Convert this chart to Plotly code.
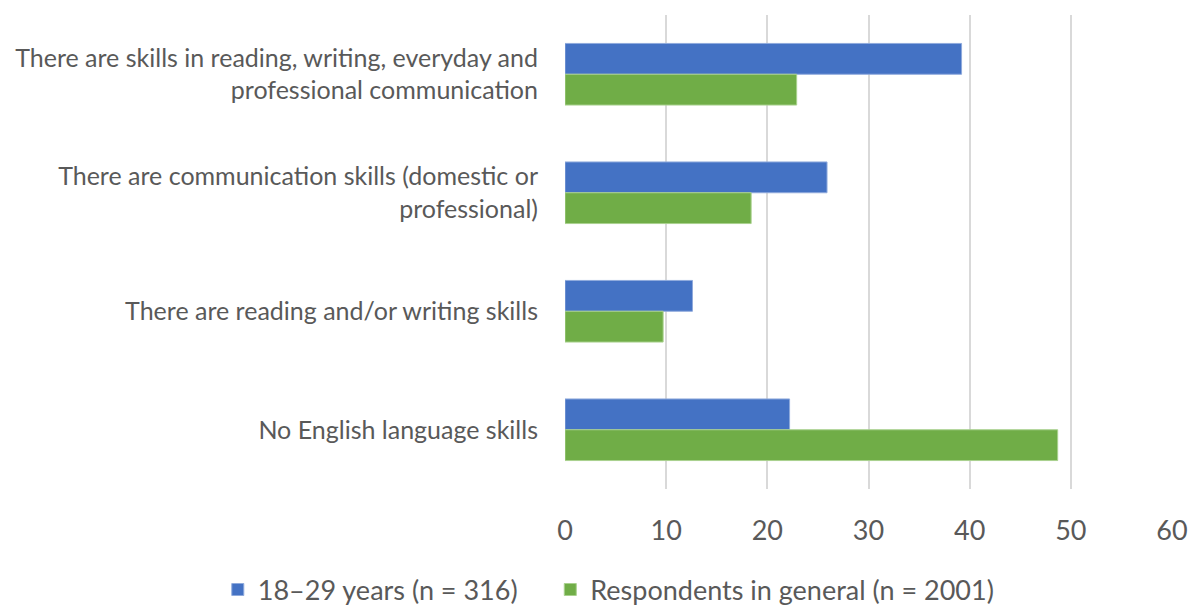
import plotly.graph_objects as go

categories = [
    "There are skills in reading, writing, everyday and<br>professional communication",
    "There are communication skills (domestic or<br>professional)",
    "There are reading and/or writing skills",
    "No English language skills",
]
series_names = ["18–29 years (n = 316)", "Respondents in general (n = 2001)"]
young = [39.2, 25.9, 12.6, 22.2]
general = [22.9, 18.4, 9.7, 48.7]
x_ticks = [0, 10, 20, 30, 40, 50, 60]

FONT = "Lato"
GREY = "#595959"
PAD = "\u00a0" * 4  # extra spacing between legend entries
fig = go.Figure()
fig.add_trace(go.Bar(y=categories, x=young, name=series_names[0] + PAD, orientation="h",
                     marker=dict(color="#4472C4", line=dict(color="#8FAADC", width=1))))
fig.add_trace(go.Bar(y=categories, x=general, name=series_names[1], orientation="h",
                     marker=dict(color="#70AD47", line=dict(color="#A9D18E", width=1))))

fig.update_layout(
    width=1192, height=609,
    margin=dict(l=565, r=20, t=15, b=120, autoexpand=False),
    paper_bgcolor="white", plot_bgcolor="white",
    barmode="group", bargap=0.48, bargroupgap=0,
    font=dict(family=FONT, color=GREY),
    legend=dict(orientation="h", x=-0.572, xanchor="left",
                y=-0.213, yanchor="middle",
                font=dict(size=27, color=GREY), traceorder="normal"),
    showlegend=True,
)
fig.update_xaxes(range=[0, 60], tickvals=x_ticks, showgrid=True, gridcolor="#D9D9D9",
                 gridwidth=2, zeroline=False, showline=False,
                 tickfont=dict(size=27, color=GREY, family=FONT),
                 ticks="outside", ticklen=0, ticklabelstandoff=18)
fig.update_yaxes(autorange="reversed", showgrid=False, zeroline=False, showline=False,
                 tickfont=dict(size=25, color=GREY, family=FONT),
                 ticks="", ticklabelstandoff=26)

fig.write_html("out.html")
